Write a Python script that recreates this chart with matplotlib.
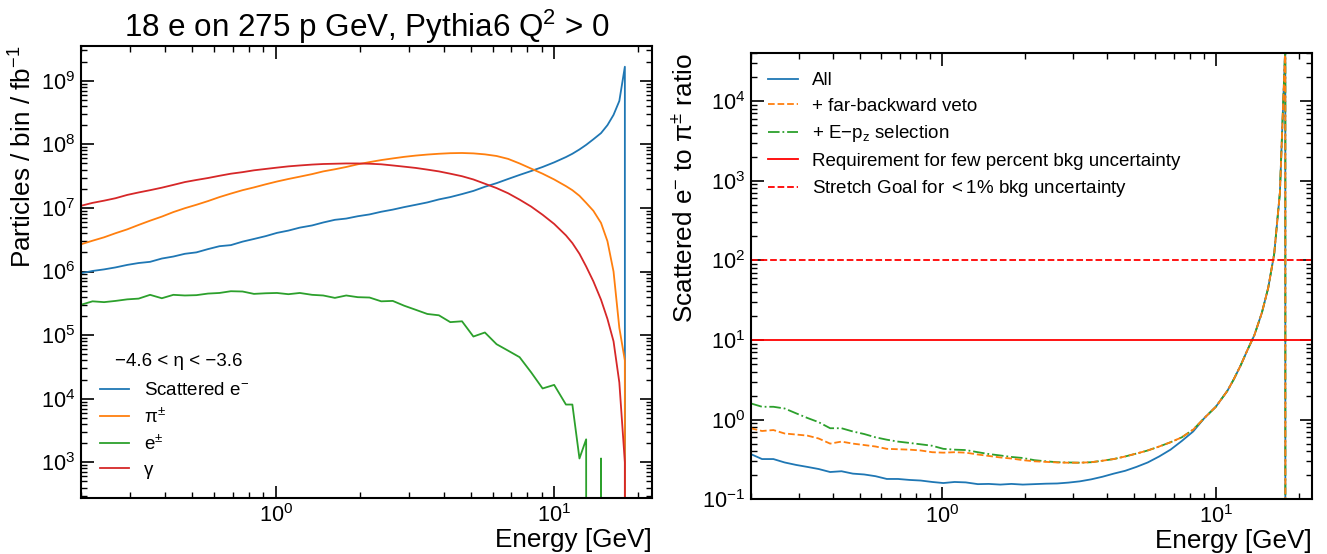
import numpy as np
import matplotlib
matplotlib.use("Agg")
import matplotlib.pyplot as plt
from matplotlib.ticker import LogLocator, NullFormatter

plt.rcParams.update({
    "font.family": ["Liberation Sans", "DejaVu Sans"],
    "mathtext.fontset": "custom",
    "mathtext.rm": "Liberation Sans",
    "mathtext.it": "Liberation Sans:italic",
    "mathtext.bf": "Liberation Sans:bold",
    "mathtext.default": "regular",
    "axes.unicode_minus": True,
})

# ---------------- data ----------------
energy = [0.200, 0.220, 0.242, 0.266, 0.293, 0.322, 0.354, 0.390, 0.429, 0.472,
          0.519, 0.571, 0.628, 0.690, 0.760, 0.835, 0.920, 1.01, 1.11, 1.22,
          1.35, 1.48, 1.63, 1.79, 1.97, 2.17, 2.39, 2.63, 2.89, 3.18,
          3.50, 3.85, 4.23, 4.66, 5.12, 5.63, 6.20, 6.82, 7.50, 8.25,
          9.07, 9.98, 11.0, 11.6, 12.3, 13.0, 13.8, 14.7, 15.5, 16.3,
          17.1, 17.9, 18.8]

scattered_e = [9.4e5, 1.02e6, 1.08e6, 1.16e6, 1.27e6, 1.36e6, 1.42e6, 1.6e6, 1.72e6, 1.9e6,
               2.0e6, 2.25e6, 2.5e6, 2.6e6, 2.95e6, 3.25e6, 3.6e6, 4.05e6, 4.4e6, 4.9e6,
               5.3e6, 5.9e6, 6.5e6, 6.8e6, 7.4e6, 7.9e6, 8.7e6, 9.4e6, 1.03e7, 1.12e7,
               1.22e7, 1.36e7, 1.48e7, 1.65e7, 1.85e7, 2.15e7, 2.45e7, 2.85e7, 3.3e7, 3.8e7,
               4.4e7, 5.2e7, 6.3e7, 7.1e7, 8.3e7, 9.8e7, 1.2e8, 1.5e8, 2.0e8, 2.9e8,
               4.8e8, 1.66e9, 0.0]

pions = [2.68e6, 3.05e6, 3.45e6, 4.0e6, 4.6e6, 5.4e6, 6.3e6, 7.3e6, 8.6e6, 9.9e6,
         1.12e7, 1.28e7, 1.48e7, 1.68e7, 1.9e7, 2.1e7, 2.35e7, 2.6e7, 2.85e7, 3.1e7,
         3.4e7, 3.75e7, 4.05e7, 4.4e7, 4.85e7, 5.25e7, 5.65e7, 6.0e7, 6.35e7, 6.65e7,
         6.9e7, 7.1e7, 7.25e7, 7.3e7, 7.2e7, 6.95e7, 6.55e7, 5.9e7, 5.0e7, 4.15e7,
         3.45e7, 2.8e7, 2.2e7, 1.9e7, 1.55e7, 1.2e7, 9.0e6, 5.8e6, 3.0e6, 1.0e6,
         1.3e5, 4.0e4, 0.0]

electrons = [3.0e5, 3.4e5, 3.3e5, 3.45e5, 3.65e5, 3.75e5, 4.3e5, 3.8e5, 4.3e5, 4.2e5,
             4.25e5, 4.5e5, 4.6e5, 4.9e5, 4.85e5, 4.45e5, 4.55e5, 4.6e5, 4.4e5, 4.6e5,
             4.3e5, 4.2e5, 3.85e5, 4.2e5, 3.95e5, 3.9e5, 3.4e5, 3.45e5, 2.9e5, 2.5e5,
             2.15e5, 2.05e5, 1.6e5, 1.65e5, 9.5e4, 1.1e5, 7.2e4, 5.7e4, 4.5e4, 2.6e4,
             1.45e4, 1.65e4, 8.1e3, 8.1e3, 1.15e3, 2.3e3, 0.0, 1.15e3, 0.0, 0.0,
             0.0, 0.0, 0.0]

photons = [1.08e7, 1.2e7, 1.3e7, 1.42e7, 1.6e7, 1.75e7, 1.9e7, 2.08e7, 2.3e7, 2.55e7,
           2.75e7, 2.95e7, 3.2e7, 3.45e7, 3.65e7, 3.9e7, 4.1e7, 4.3e7, 4.5e7, 4.65e7,
           4.8e7, 4.9e7, 4.95e7, 5.0e7, 5.0e7, 4.95e7, 4.85e7, 4.65e7, 4.45e7, 4.25e7,
           4.0e7, 3.75e7, 3.45e7, 3.15e7, 2.8e7, 2.4e7, 2.05e7, 1.7e7, 1.35e7, 1.05e7,
           7.8e6, 5.6e6, 3.7e6, 2.8e6, 1.9e6, 1.2e6, 7.0e5, 3.6e5, 1.8e5, 8.0e4,
           1.8e4, 1.0e3, 0.0]

ratio_all = [0.37, 0.32, 0.32, 0.29, 0.27, 0.255, 0.24, 0.22, 0.225, 0.21,
             0.205, 0.195, 0.18, 0.18, 0.175, 0.172, 0.165, 0.16, 0.165, 0.163,
             0.155, 0.156, 0.153, 0.156, 0.153, 0.155, 0.157, 0.158, 0.162, 0.168,
             0.178, 0.192, 0.21, 0.228, 0.255, 0.29, 0.345, 0.42, 0.54, 0.71,
             1.05, 1.45, 2.3, 3.2, 4.8, 7.4, 11.5, 22.0, 45.0, 120.0,
             700.0, 5.0e4, 0.0]

ratio_veto = [0.78, 0.72, 0.74, 0.67, 0.65, 0.63, 0.58, 0.50, 0.53, 0.50,
              0.48, 0.46, 0.43, 0.425, 0.42, 0.41, 0.39, 0.385, 0.39, 0.385,
              0.365, 0.35, 0.335, 0.325, 0.31, 0.30, 0.295, 0.29, 0.288, 0.288,
              0.292, 0.305, 0.32, 0.345, 0.375, 0.41, 0.46, 0.52, 0.60, 0.75,
              1.05, 1.45, 2.3, 3.2, 4.8, 7.4, 11.5, 22.0, 45.0, 120.0,
              700.0, 5.0e4, 0.0]

ratio_epz = [1.6, 1.45, 1.45, 1.38, 1.2, 1.05, 0.93, 0.78, 0.78, 0.71,
             0.66, 0.60, 0.56, 0.53, 0.51, 0.49, 0.47, 0.43, 0.42, 0.415,
             0.39, 0.37, 0.355, 0.34, 0.33, 0.31, 0.30, 0.292, 0.29, 0.288,
             0.292, 0.305, 0.32, 0.345, 0.375, 0.41, 0.46, 0.52, 0.60, 0.75,
             1.05, 1.45, 2.3, 3.2, 4.8, 7.4, 11.5, 22.0, 45.0, 120.0,
             700.0, 5.0e4, 0.0]

requirement_level = 10.0
stretch_level = 100.0

# ---------------- figure ----------------
W, H = 1327, 554
fig = plt.figure(figsize=(W / 100, H / 100), dpi=100)
ax1 = fig.add_axes([81 / W, 1 - 498.3 / H, (652 - 81) / W, (498.3 - 45.7) / H])
ax2 = fig.add_axes([750.7 / W, 1 - 499.3 / H, (1312 - 750.7) / W, (499.3 - 53) / H])

lw = 1.3
ax1.plot(energy, scattered_e, color="#1f77b4", lw=lw, label="Scattered e$^{-}$")
ax1.plot(energy, pions, color="#ff7f0e", lw=lw, label="π$^{\\pm}$")
ax1.plot(energy, electrons, color="#2ca02c", lw=lw, label="e$^{\\pm}$")
ax1.plot(energy, photons, color="#d62728", lw=lw, label="γ")

ax2.plot(energy, ratio_all, color="#1f77b4", lw=lw, label="All")
ax2.plot(energy, ratio_epz, color="#2ca02c", lw=lw, ls="-.", label="+ E−p$_{z}$ selection")
ax2.plot(energy, ratio_veto, color="#ff7f0e", lw=lw, ls="--", label="+ far-backward veto")
ax2.axhline(requirement_level, color="red", lw=lw, label="Requirement for few percent bkg uncertainty")
ax2.axhline(stretch_level, color="red", lw=lw, ls="--", label="Stretch Goal for $<$1% bkg uncertainty")

for ax in (ax1, ax2):
    ax.set_xscale("log")
    ax.set_yscale("log")
    ax.set_xlim(0.2, 22.4)
    for axis in (ax.xaxis, ax.yaxis):
        axis.set_major_locator(LogLocator(base=10, numticks=100))
        axis.set_minor_locator(LogLocator(base=10, subs=np.arange(2, 10), numticks=100))
        axis.set_minor_formatter(NullFormatter())
    ax.tick_params(which="both", direction="in", top=True, right=True, labelsize=15.7)
    ax.tick_params(which="major", length=9, width=1.2, pad=4)
    ax.tick_params(which="minor", length=4.5, width=1.0)
    for s in ax.spines.values():
        s.set_linewidth(1.5)
    ax.set_xlabel("Energy [GeV]", fontsize=18.8, loc="right", labelpad=1)

ax1.set_ylim(272, 3.55e9)
ax2.set_ylim(0.1, 4e4)

ax1.set_ylabel("Particles / bin / fb$^{-1}$", fontsize=18.8, loc="top")
ax1.yaxis.set_label_coords(-0.078, 1.0)
ax2.set_ylabel("Scattered e$^{-}$ to π$^{\\pm}$ ratio", fontsize=18.8, loc="top")
ax2.yaxis.set_label_coords(-0.096, 1.0)

ax1.set_title("18 e on 275 p GeV, Pythia6 Q$^2$ > 0", fontsize=22.6, pad=4)

ax1.legend(loc="lower left", frameon=False, fontsize=13.5, handlelength=1.55,
           handletextpad=0.8, labelspacing=0.42,
           bbox_to_anchor=(0.02, 0.027), borderaxespad=0)
ax1.text(0.06, 0.303, "−4.6 < η < −3.6", transform=ax1.transAxes,
         fontsize=13.5, ha="left", va="center")

h, l = ax2.get_legend_handles_labels()
order = [0, 2, 1, 3, 4]
ax2.legend([h[i] for i in order], [l[i] for i in order], loc="upper left",
           frameon=False, fontsize=13.5, handlelength=1.6, handletextpad=0.75,
           labelspacing=0.45, bbox_to_anchor=(0.0175, 0.974), borderaxespad=0)

fig.savefig("out.png", dpi=100)
